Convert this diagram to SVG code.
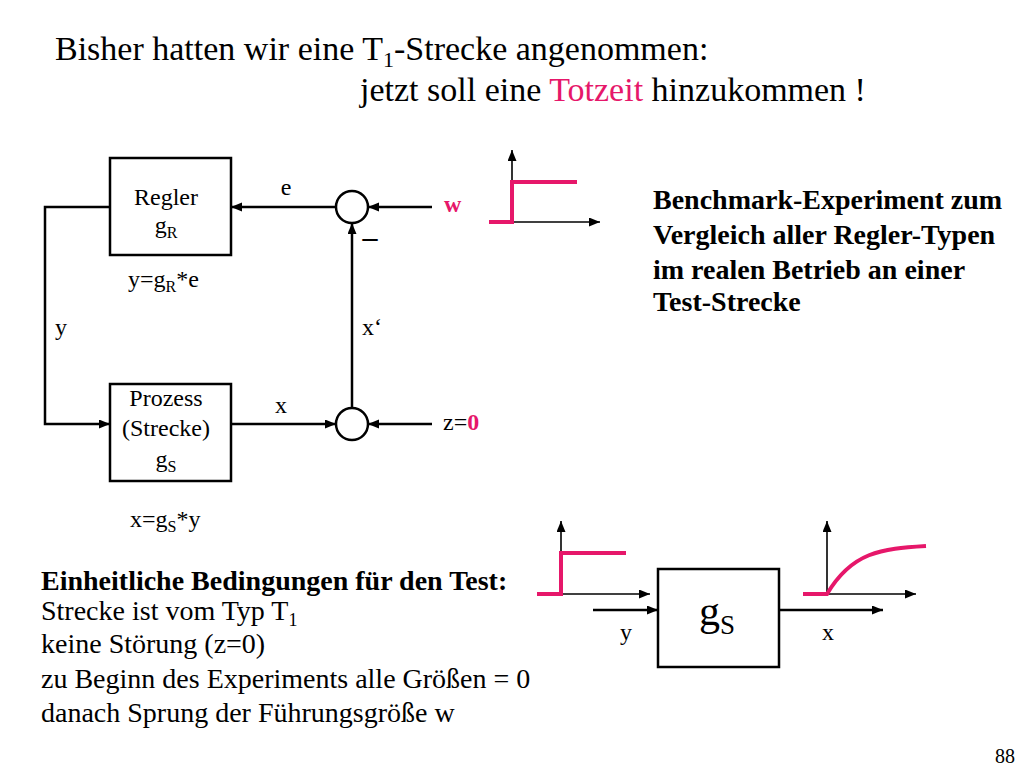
<svg xmlns="http://www.w3.org/2000/svg" width="1024" height="768" viewBox="0 0 1024 768">
<style>
text{font-family:"Liberation Serif","Times New Roman",serif;fill:#000}
.t{font-size:34px}
.b{font-size:28px;font-weight:bold}
.r{font-size:28px}
.l{font-size:24px}
.pk{fill:#e6176a}
.blk{fill:none;stroke:#000;stroke-width:2.5}
.ax{fill:none;stroke:#000;stroke-width:1.6}
.pl{fill:none;stroke:#e6176a;stroke-width:4}
</style>
<defs>
<marker id="ah" markerUnits="userSpaceOnUse" markerWidth="12" markerHeight="10" refX="11" refY="4.5" orient="auto">
<path d="M0,0 L11,4.5 L0,9 z" fill="#000"/>
</marker>
<marker id="as" markerUnits="userSpaceOnUse" markerWidth="12" markerHeight="10" refX="11" refY="4.5" orient="auto">
<path d="M0,0 L11,4.5 L0,9 z" fill="#000"/>
</marker>
</defs>
<rect width="1024" height="768" fill="#fff"/>

<g id="title">
<text class="t" x="55" y="60">Bisher hatten wir eine T<tspan font-size="22" dy="7">1</tspan><tspan dy="-7">-Strecke angenommen:</tspan></text>
<text class="t" x="360" y="101">jetzt soll eine <tspan class="pk">Totzeit</tspan> hinzukommen !</text>
</g>

<g id="regler">
<rect class="blk" x="110" y="158" width="121" height="97"/>
<text class="l" x="166" y="205" text-anchor="middle">Regler</text>
<text class="l" x="166" y="233" text-anchor="middle">g<tspan font-size="16" dy="5">R</tspan></text>
<text class="l" x="128" y="287">y=g<tspan font-size="16" dy="5">R</tspan><tspan dy="-5">*e</tspan></text>
</g>

<g id="prozess">
<rect class="blk" x="110" y="384" width="121" height="97"/>
<text class="l" x="166" y="406" text-anchor="middle">Prozess</text>
<text class="l" x="166" y="436" text-anchor="middle">(Strecke)</text>
<text class="l" x="166" y="467" text-anchor="middle">g<tspan font-size="16" dy="5">S</tspan></text>
<text class="l" x="130" y="527">x=g<tspan font-size="16" dy="5">S</tspan><tspan dy="-5">*y</tspan></text>
</g>

<g id="sum1">
<circle class="blk" cx="352" cy="207" r="16"/>
</g>
<g id="sum2">
<circle class="blk" cx="352" cy="424" r="16"/>
</g>

<g id="connectors">
<line class="blk" x1="432" y1="207" x2="368" y2="207" marker-end="url(#ah)"/>
<line class="blk" x1="336" y1="207" x2="231" y2="207" marker-end="url(#ah)"/>
<path class="blk" d="M110,207 H45 V424 H110" marker-end="url(#ah)"/>
<line class="blk" x1="231" y1="424" x2="336" y2="424" marker-end="url(#ah)"/>
<line class="blk" x1="432" y1="424" x2="368" y2="424" marker-end="url(#ah)"/>
<line class="blk" x1="352" y1="408" x2="352" y2="223" marker-end="url(#ah)"/>
<line class="blk" x1="593" y1="610" x2="658" y2="610" marker-end="url(#ah)"/>
<line class="blk" x1="779" y1="610" x2="883" y2="610" marker-end="url(#ah)"/>
</g>

<g id="labels">
<text class="l" x="286" y="195" text-anchor="middle">e</text>
<text class="l" x="444" y="212" font-weight="bold"><tspan class="pk">w</tspan></text>
<text x="370" y="247" font-size="30" font-weight="bold" text-anchor="middle">–</text>
<text class="l" x="55" y="335">y</text>
<text class="l" x="362" y="335">x‘</text>
<text class="l" x="275" y="413">x</text>
<text class="l" x="443" y="430">z=<tspan class="pk" font-weight="bold">0</tspan></text>
</g>

<g id="step-w">
<line class="ax" x1="512" y1="222" x2="512" y2="150" marker-end="url(#as)"/>
<line class="ax" x1="512" y1="222" x2="600" y2="222" marker-end="url(#as)"/>
<path class="pl" d="M489,222 H512 V182 H577"/>
</g>

<g id="benchmark">
<text class="b" x="653" y="209">Benchmark-Experiment zum</text>
<text class="b" x="653" y="244">Vergleich aller Regler-Typen</text>
<text class="b" x="653" y="279">im realen Betrieb an einer</text>
<text class="b" x="653" y="311">Test-Strecke</text>
</g>

<g id="conditions">
<text class="b" x="41" y="590">Einheitliche Bedingungen für den Test:</text>
<text class="r" x="41" y="620">Strecke ist vom Typ T<tspan font-size="18" dy="6">1</tspan></text>
<text class="r" x="41" y="653">keine Störung (z=0)</text>
<text class="r" x="41" y="688">zu Beginn des Experiments alle Größen = 0</text>
<text class="r" x="41" y="722">danach Sprung der Führungsgröße w</text>
</g>

<g id="step-y">
<line class="ax" x1="561" y1="594" x2="561" y2="521" marker-end="url(#as)"/>
<line class="ax" x1="561" y1="594" x2="650" y2="594" marker-end="url(#as)"/>
<path class="pl" d="M537,594 H561 V553 H626"/>
</g>

<g id="gs-block">
<rect class="blk" x="658" y="569" width="121" height="98"/>
<text x="699" y="625" font-size="42">g<tspan font-size="27" dy="9">S</tspan></text>
<text class="l" x="626" y="640" text-anchor="middle">y</text>
<text class="l" x="828" y="640" text-anchor="middle">x</text>
</g>

<g id="step-x">
<line class="ax" x1="827" y1="594" x2="827" y2="521" marker-end="url(#as)"/>
<line class="ax" x1="827" y1="594" x2="916" y2="594" marker-end="url(#as)"/>
<path class="pl" d="M803,594 H827 C852,552 881,548.7 926,546"/>
</g>

<text x="1015" y="763" font-size="20" text-anchor="end">88</text>
</svg>
